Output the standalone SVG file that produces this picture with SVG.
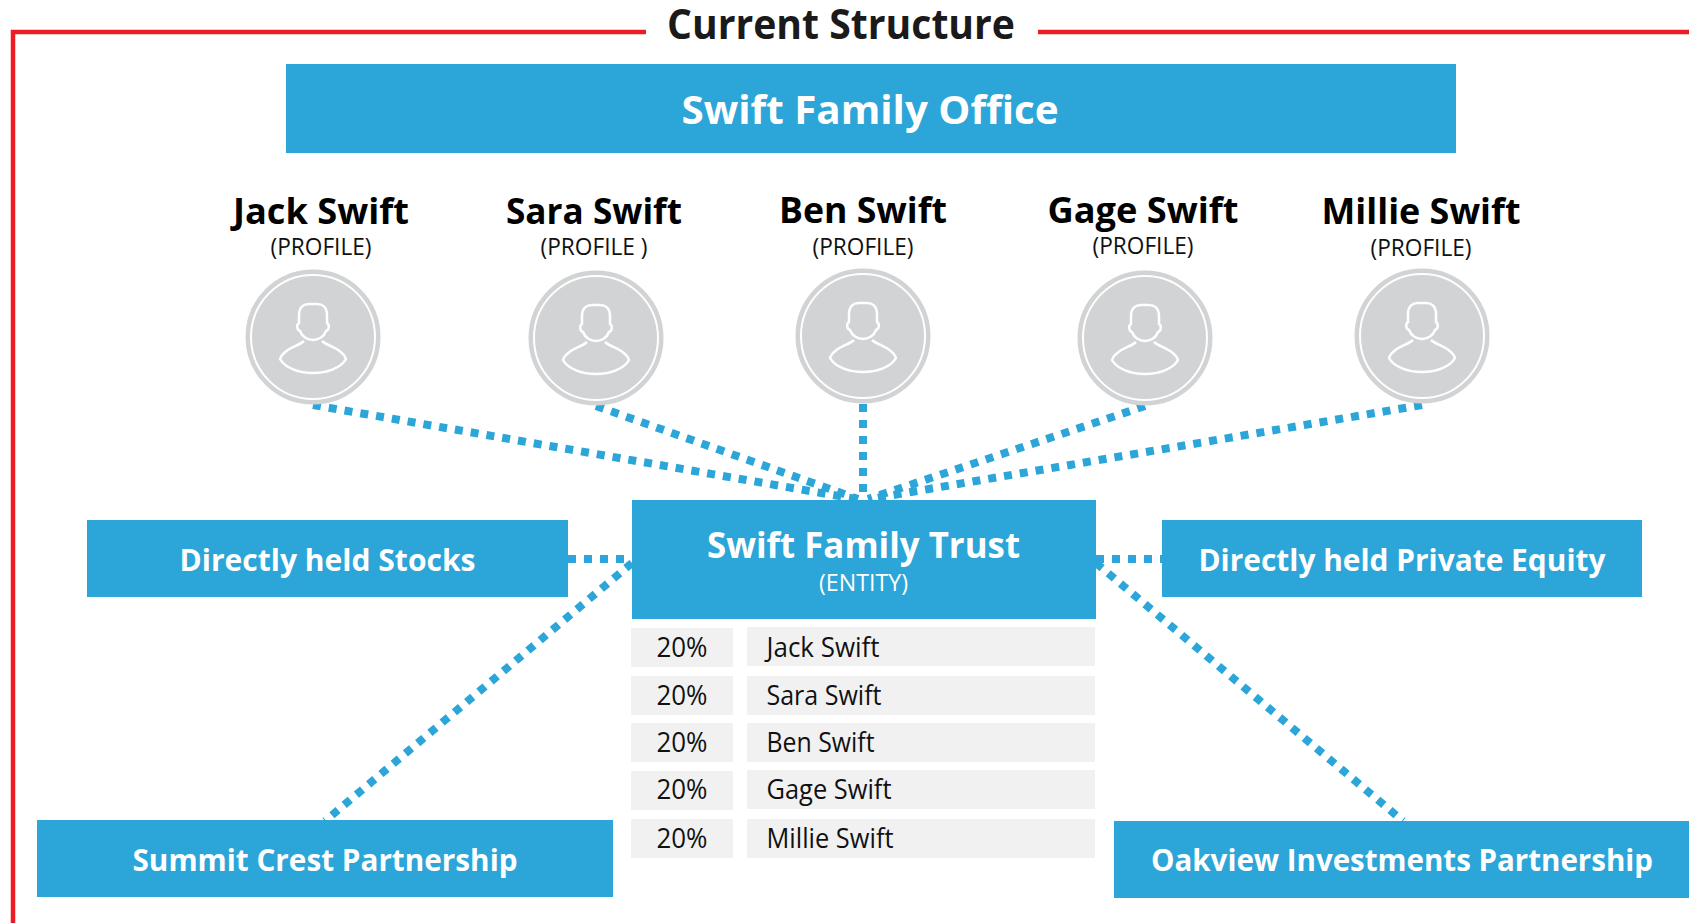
<svg xmlns="http://www.w3.org/2000/svg" width="1689" height="923" viewBox="0 0 1689 923">
<style>
text{font-family:"Open Sans","Noto Sans","Liberation Sans",sans-serif;text-anchor:middle}
.box{fill:#2ca5d8}
.w{fill:#fff;font-weight:700}
.b{fill:#000;font-weight:700;font-size:36px}
.p{fill:#111;font-size:24px}
.c{fill:#f1f1f1}
.t{fill:#111;font-size:27px}
.l{text-anchor:start}
.d{fill:none;stroke:#2ca5d8;stroke-width:8;stroke-dasharray:8 8}
.o{fill:#d1d3d4;stroke:#d1d3d4;stroke-width:3}
.r{fill:none;stroke:#fff;stroke-width:2.500}
.red{fill:none;stroke:#ed1c24;stroke-width:4.500}
</style>
<defs>
<g id="person">
<circle class="o" r="66"/>
<circle r="62" fill="none" stroke="#fff" stroke-width="2"/>
<path class="r" d="M-14-22C-14-30-9-33-4-33H4C9-33 14-30 14-22V-14C17-12 16-7 13-6C11 0 5 3 0 3C-5 3-11 0-13-6C-16-7-17-12-14-14Z"/>
<path class="r" d="M-9 4C-14 9-30 12-33 22C-28 31-14 36 0 36C14 36 28 31 33 22C30 12 14 9 9 4"/>
</g>
</defs>
<g id="frame">
<path class="red" d="M646 32H13V923"/>
<path class="red" d="M1038 32H1689"/>
<text x="841" y="39" font-size="42" font-weight="700" fill="#1a1a1a" textLength="348" lengthAdjust="spacingAndGlyphs">Current Structure</text>
</g>
<g id="connectors">
<path class="d" d="M313 405L856 499"/>
<path class="d" d="M596 406L858 499"/>
<path class="d" d="M863 404V499"/>
<path class="d" d="M1145 406L868 499"/>
<path class="d" d="M1422 405L870 499"/>
<path class="d" d="M568 559H632"/>
<path class="d" d="M1096 559H1162"/>
<path class="d" d="M632 563L325 821"/>
<path class="d" d="M1096 563L1403 821"/>
</g>
<g id="family-office"><rect class="box" x="286" y="64" width="1170" height="89"/><text class="w" x="870" y="124" font-size="40" textLength="377" lengthAdjust="spacingAndGlyphs">Swift Family Office</text></g>
<g id="jack"><text class="b" x="321" y="224" textLength="176" lengthAdjust="spacingAndGlyphs">Jack Swift</text><text class="p" x="321" y="255" textLength="101" lengthAdjust="spacingAndGlyphs">(PROFILE)</text><use href="#person" x="313" y="337"/></g>
<g id="sara"><text class="b" x="594" y="224" textLength="176" lengthAdjust="spacingAndGlyphs">Sara Swift</text><text class="p" x="594" y="255" textLength="107" lengthAdjust="spacingAndGlyphs">(PROFILE )</text><use href="#person" x="596" y="338"/></g>
<g id="ben"><text class="b" x="863" y="223" textLength="168" lengthAdjust="spacingAndGlyphs">Ben Swift</text><text class="p" x="863" y="255" textLength="101" lengthAdjust="spacingAndGlyphs">(PROFILE)</text><use href="#person" x="863" y="336"/></g>
<g id="gage"><text class="b" x="1143" y="223" textLength="191" lengthAdjust="spacingAndGlyphs">Gage Swift</text><text class="p" x="1143" y="254" textLength="101" lengthAdjust="spacingAndGlyphs">(PROFILE)</text><use href="#person" x="1145" y="338"/></g>
<g id="millie"><text class="b" x="1421" y="224" textLength="199" lengthAdjust="spacingAndGlyphs">Millie Swift</text><text class="p" x="1421" y="256" textLength="101" lengthAdjust="spacingAndGlyphs">(PROFILE)</text><use href="#person" x="1422" y="336"/></g>
<g id="trust"><rect class="box" x="632" y="500" width="464" height="119"/><text class="w" x="863.500" y="558" font-size="35" textLength="313" lengthAdjust="spacingAndGlyphs">Swift Family Trust</text><text x="863.500" y="591" font-size="23" fill="#fff" textLength="89" lengthAdjust="spacingAndGlyphs">(ENTITY)</text></g>
<g id="stocks"><rect class="box" x="87" y="520" width="481" height="77"/><text class="w" x="327.500" y="571" font-size="31" textLength="296" lengthAdjust="spacingAndGlyphs">Directly held Stocks</text></g>
<g id="private-equity"><rect class="box" x="1162" y="520" width="480" height="77"/><text class="w" x="1402" y="571" font-size="31" textLength="407" lengthAdjust="spacingAndGlyphs">Directly held Private Equity</text></g>
<g id="summit"><rect class="box" x="37" y="820" width="576" height="77"/><text class="w" x="325" y="871" font-size="31" textLength="385" lengthAdjust="spacingAndGlyphs">Summit Crest Partnership</text></g>
<g id="oakview"><rect class="box" x="1114" y="821" width="575" height="77"/><text class="w" x="1402" y="871" font-size="31" textLength="502" lengthAdjust="spacingAndGlyphs">Oakview Investments Partnership</text></g>
<g id="row-1"><rect class="c" x="631" y="628" width="102" height="39"/><rect class="c" x="747" y="627" width="348" height="39"/><text class="t" x="682" y="657" textLength="51" lengthAdjust="spacingAndGlyphs">20%</text><text class="t l" x="766.500" y="657" textLength="113" lengthAdjust="spacingAndGlyphs">Jack Swift</text></g>
<g id="row-2"><rect class="c" x="631" y="676" width="102" height="39"/><rect class="c" x="747" y="676" width="348" height="39"/><text class="t" x="682" y="705" textLength="51" lengthAdjust="spacingAndGlyphs">20%</text><text class="t l" x="766.500" y="705" textLength="115" lengthAdjust="spacingAndGlyphs">Sara Swift</text></g>
<g id="row-3"><rect class="c" x="631" y="723" width="102" height="39"/><rect class="c" x="747" y="723" width="348" height="39"/><text class="t" x="682" y="752" textLength="51" lengthAdjust="spacingAndGlyphs">20%</text><text class="t l" x="766.500" y="752" textLength="108" lengthAdjust="spacingAndGlyphs">Ben Swift</text></g>
<g id="row-4"><rect class="c" x="631" y="771" width="102" height="39"/><rect class="c" x="747" y="770" width="348" height="39"/><text class="t" x="682" y="799" textLength="51" lengthAdjust="spacingAndGlyphs">20%</text><text class="t l" x="766.500" y="799" textLength="125" lengthAdjust="spacingAndGlyphs">Gage Swift</text></g>
<g id="row-5"><rect class="c" x="631" y="819" width="102" height="39"/><rect class="c" x="747" y="819" width="348" height="39"/><text class="t" x="682" y="848" textLength="51" lengthAdjust="spacingAndGlyphs">20%</text><text class="t l" x="766.500" y="848" textLength="127" lengthAdjust="spacingAndGlyphs">Millie Swift</text></g>
</svg>
